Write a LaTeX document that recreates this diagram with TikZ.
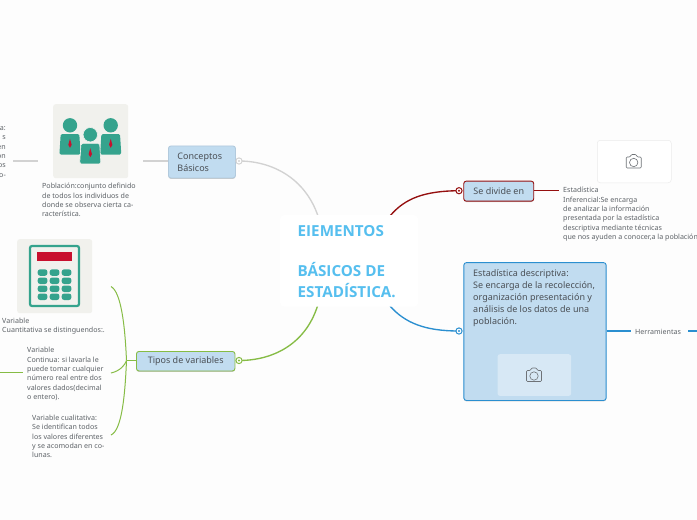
\documentclass[tikz,border=0pt]{standalone}
\usepackage{fontspec}
\setmainfont{Noto Sans}
\newfontfamily\titlefont{Open Sans}[BoldFont={Open Sans Bold}]
\usetikzlibrary{shadows}
\definecolor{pagebg}{HTML}{FDFDFD}
\definecolor{nodeblue}{HTML}{C1DCF0}
\definecolor{greyline}{HTML}{D2D2D2}
\definecolor{redline}{HTML}{950F0F}
\definecolor{blueline}{HTML}{2B8FD0}
\definecolor{greenline}{HTML}{86BC45}
\definecolor{titleblue}{HTML}{56BFEF}
\definecolor{txt}{HTML}{4A4F55}
\definecolor{teal1}{HTML}{35A38D}
\definecolor{crimson}{HTML}{C8102E}
\definecolor{tile}{HTML}{F1F1ED}
\tikzset{
  x=1pt,y=-1pt,
  topic/.style={draw=#1,fill=nodeblue,rounded corners=2.5,line width=.9pt,text=txt,font=\fontsize{9}{11.8}\selectfont,
     inner sep=0pt,anchor=north west,drop shadow={shadow xshift=0pt,shadow yshift=-.9pt,opacity=.2,fill=black}},
  leaf/.style={text=txt!90,font=\fontsize{7.1}{9.45}\selectfont,inner sep=0pt,anchor=north west,align=left},
  conn/.style={line width=1.35pt,line cap=round},
  stub/.style={line width=1.3pt},
  thin/.style={line width=1pt},
  dotc/.style={circle,draw=#1,fill=white,line width=1pt,minimum size=6.2pt,inner sep=0pt},
  tilebox/.style={fill=tile,rounded corners=2.5,draw=none,anchor=north west,inner sep=0pt},
  cam/.style={draw=txt!80,line width=.6pt},
}
\newcommand{\dotmark}[2]{\node[dotc=#2] (#1dot) at (#1c) {}; \fill[#2] (#1c) circle (1.1pt);}
\newcommand{\camera}[1]{\begin{scope}[shift={(#1)}]
 \draw[cam,rounded corners=1] (-7.5,-4.5) -- (-3.5,-4.5) -- (-2.5,-7) -- (2.5,-7) -- (3.5,-4.5) -- (7.5,-4.5) -- (7.5,6.5) -- (-7.5,6.5) -- cycle;
 \draw[cam] (0,1) circle (4.2);
 \end{scope}}
\newcommand{\person}[2]{\begin{scope}[shift={(#1)}]
 \fill[teal1,#2] (0,0) circle (7.2);
 \fill[teal1,rounded corners=1.5,#2] (-9.3,8.7) -- (9.3,8.7) -- (10.6,29.2) -- (-10.6,29.2) -- cycle;
 \fill[crimson] (0,13.5) -- (1.7,19.5) -- (0,22.5) -- (-1.7,19.5) -- cycle;
 \end{scope}}
\begin{document}
\begin{tikzpicture}
\useasboundingbox (0,0) rectangle (697,520);
\fill[pagebg] (0,0) rectangle (697,520);
% connector anchors
\coordinate (cbc) at (239,161);
\coordinate (tvc) at (239,360.5);
\coordinate (sdc) at (459,190.7);
\coordinate (edc) at (459,331);
\coordinate (rootnw) at (318,216);
\coordinate (rootsw) at (317.5,306);
\coordinate (rootne) at (390,216);
\coordinate (rootse) at (390,306);
\draw[conn,greyline] (cbc) .. controls (272,161) and (305,178) .. (rootnw);
\draw[conn,greenline] (tvc) .. controls (272,360.5) and (305,345) .. (rootsw);
\draw[conn,redline] (sdc) .. controls (425,191) and (405,198) .. (rootne);
\draw[conn,blueline] (edc) .. controls (425,331) and (405,323) .. (rootse);
% central
\node[fill=white,rounded corners=4,minimum width=138,minimum height=91.5,anchor=north west,inner sep=0pt] (root) at (280,215) {};
\node[text=titleblue,font=\titlefont\fontsize{15.2}{20.3}\selectfont\bfseries,anchor=north west,inner sep=0pt,align=left] (title) at (297.5,225) {EIEMENTOS\\\mbox{}\\BÁSICOS DE\\ESTADÍSTICA.};
% topics
\node[topic=nodeblue!92!black,minimum width=67,minimum height=32,text width=49,inner xsep=9,align=left] (cb) at (168,145.5) {Conceptos\\Básicos};
\node[topic=greenline,minimum width=98.5,minimum height=19.5] (tv) at (136,351) {Tipos de variables};
\node[topic=redline,minimum width=70,minimum height=20] (sd) at (463.3,180.7) {Se divide en};
\node[topic=blueline,minimum width=142.3,minimum height=137.8] (ed) at (463.4,262.2) {};
\node[text=txt,font=\fontsize{9}{12}\selectfont,inner sep=0pt,anchor=north west,align=left] (edt) at (473,269) {Estadística descriptiva:\\Se encarga de la recolección,\\organización  presentación y\\análisis de los datos de una\\población.};
\dotmark{cb}{greyline}
\dotmark{tv}{greenline}
\dotmark{sd}{redline}
\dotmark{ed}{blueline}
% image tiles
\node[tilebox,minimum width=75,minimum height=74] (pop) at (53,104) {};
\node[tilebox,minimum width=75,minimum height=74] (calc) at (17,239) {};
\node[fill=white,draw=black!8,line width=.5pt,rounded corners=3,minimum width=74,minimum height=42.5,anchor=north west,inner sep=0pt] (ph1) at (597,140) {};
\node[fill=nodeblue!65!white,rounded corners=2.5,minimum width=73.7,minimum height=41.7,anchor=north west,inner sep=0pt] (ph2) at (497.3,354) {};
\camera{633.7,161.5}
\camera{534,375}
% people
\person{70,125.3}{}
\person{110.7,125.3}{}
\person{90.3,134.7}{draw=tile,line width=.6pt}
% calculator
\draw[teal1,line width=2.2pt,rounded corners=2,fill=tile] (30,246) rectangle (79,306);
\fill[crimson] (37.3,252.3) rectangle (71.7,261);
\foreach \yy in {269.3,277.5,285.5,293.5}
  \foreach \xx in {37.7,49.7,61.7}
    \fill[teal1,rounded corners=2.5] (\xx,\yy) rectangle ++(9.7,6.5);
% leaf labels
\node[leaf] (a) at (42,183) {Población:conjunto definido\\de todos los individuos  de\\donde se observa cierta ca-\\racterística.};
\node[leaf,anchor=north east,align=right] (b) at (6,126) {a:\hspace{3pt}\\s\hspace{2pt}\\en\\on\\os\hspace{1pt}\\o-\hspace{3pt}};
\node[leaf] (c) at (2,317.5) {Variable\\Cuantitativa se distinguendos:.};
\node[leaf] (d) at (27,347) {Variable\\Continua: si lavarla le\\puede tomar cualquier\\número real entre dos\\valores dados(decimal\\o entero).};
\node[leaf] (e) at (32,414.5) {Variable cualitativa:\\Se identifican todos\\los valores diferentes\\y se acomodan en co-\\lunas.};
\node[leaf] (f) at (563,187) {Estadística\\Inferencial:Se encarga\\de analizar la información\\presentada por la estadística\\descriptiva mediante técnicas\\que nos ayuden a conocer,a la población};
\node[leaf] (g) at (635,329) {Herramientas};
% thin connectors
\coordinate (n1) at (143,161);
\draw[greyline,stub] (n1) -- (cb.west |- n1);
\coordinate (n3) at (13,161); \coordinate (n4) at (38,161);
\draw[greyline,stub] (n3) -- (n4);
\coordinate (g1) at (0,372); \coordinate (g2) at (23,372);
\draw[greenline,thin] (g1) -- (g2);
\coordinate (g3) at (126.5,360.7);
\draw[greenline,stub] (tv.west |- g3) -- (g3);
\coordinate (g4) at (111,286.5); \coordinate (g5) at (111,373); \coordinate (g6) at (111,435);
\draw[greenline,thin] (g4) .. controls (121,292) and (125,325) .. (g3);
\draw[greenline,thin] (g5) .. controls (120,371) and (125,365) .. (g3);
\draw[greenline,thin] (g6) .. controls (122,430) and (125,395) .. (g3);
\coordinate (r1) at (559,190.7);
\draw[redline,stub] (sd.east |- r1) -- (r1);
\coordinate (h1) at (631,331); \coordinate (h2) at (688,331); \coordinate (h3) at (697,331);
\draw[blueline,stub] (ed.east |- h1) -- (h1);
\draw[blueline,stub] (h2) -- (h3);
\end{tikzpicture}
\end{document}
